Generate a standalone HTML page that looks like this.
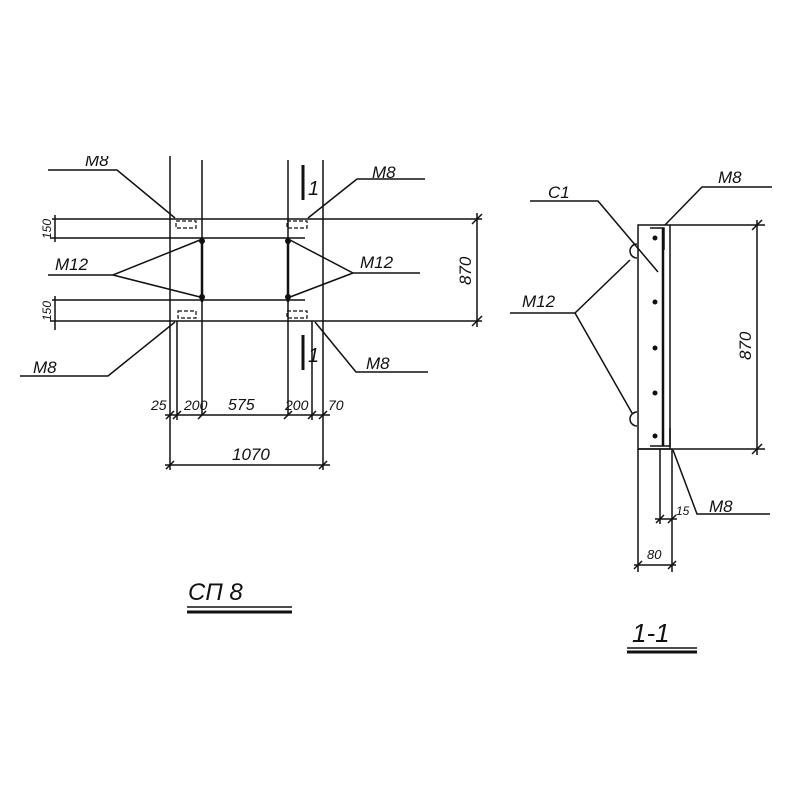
<!DOCTYPE html>
<html><head><meta charset="utf-8"><style>
body{margin:0;background:#fff}
svg{display:block}
text{font-family:"Liberation Sans","DejaVu Sans",sans-serif;font-style:italic;fill:#111}
</style></head><body>
<svg width="800" height="800" viewBox="0 0 800 800" xmlns="http://www.w3.org/2000/svg">
<g stroke="#111" stroke-width="1.5" fill="none">
<line x1="170" y1="155" x2="170" y2="470"/>
<line x1="202" y1="160" x2="202" y2="415"/>
<line x1="288" y1="160" x2="288" y2="415"/>
<line x1="323" y1="160" x2="323" y2="470"/>
<line x1="177" y1="321" x2="177" y2="420"/>
<line x1="312" y1="321" x2="312" y2="420"/>
<line x1="52" y1="219" x2="482" y2="219"/>
<line x1="50" y1="238" x2="305" y2="238"/>
<line x1="52" y1="300" x2="305" y2="300"/>
<line x1="50" y1="321" x2="482" y2="321"/>
<line x1="55" y1="215" x2="55" y2="242"/>
<line x1="55" y1="296" x2="55" y2="330"/>
<line x1="477" y1="213" x2="477" y2="327"/>
<line x1="472" y1="224" x2="482" y2="214"/>
<line x1="472" y1="326" x2="482" y2="316"/>
<rect x="176" y="221" width="20" height="7" stroke-dasharray="4 2" stroke-width="1.2"/>
<rect x="287" y="221" width="20" height="7" stroke-dasharray="4 2" stroke-width="1.2"/>
<rect x="178" y="311" width="18" height="7" stroke-dasharray="4 2" stroke-width="1.2"/>
<rect x="287" y="311" width="20" height="7" stroke-dasharray="4 2" stroke-width="1.2"/>
<line x1="202" y1="238" x2="202" y2="302" stroke-width="2.5"/>
<line x1="288" y1="238" x2="288" y2="302" stroke-width="2.5"/>
<polyline points="48,170 117,170 175,218"/>
<polyline points="357,179 425,179"/>
<line x1="357" y1="179" x2="308" y2="218"/>
<polyline points="48,275 113,275 200,240"/>
<line x1="113" y1="275" x2="200" y2="297"/>
<polyline points="420,273 353,273 290,240"/>
<line x1="353" y1="273" x2="290" y2="297"/>
<polyline points="20,376 108,376 175,322"/>
<polyline points="428,372 356,372 315,322"/>
<line x1="303" y1="165" x2="303" y2="200" stroke-width="3"/>
<line x1="303" y1="335" x2="303" y2="370" stroke-width="3"/>
<line x1="165" y1="415" x2="330" y2="415"/>
<line x1="165" y1="465" x2="330" y2="465"/>
<line x1="166" y1="419" x2="174" y2="411"/><line x1="173" y1="419" x2="181" y2="411"/>
<line x1="198" y1="419" x2="206" y2="411"/><line x1="284" y1="419" x2="292" y2="411"/>
<line x1="308" y1="419" x2="316" y2="411"/><line x1="319" y1="419" x2="327" y2="411"/>
<line x1="166" y1="469" x2="174" y2="461"/><line x1="319" y1="469" x2="327" y2="461"/>
<line x1="187" y1="607" x2="292" y2="607"/>
<line x1="187" y1="612" x2="292" y2="612" stroke-width="3"/>
<rect x="638" y="225" width="32" height="224"/>
<line x1="663" y1="228" x2="663" y2="446" stroke-width="2.5"/>
<polyline points="650,228 664,228 664,250"/>
<polyline points="650,446 670,446 670,428"/>
<path d="M637,244 a6,6 0 0 0 0,14"/>
<path d="M637,412 a6,6 0 0 0 0,14"/>
<line x1="670" y1="225" x2="765" y2="225"/>
<line x1="638" y1="449" x2="765" y2="449"/>
<line x1="757" y1="220" x2="757" y2="455"/>
<line x1="752" y1="230" x2="762" y2="220"/>
<line x1="752" y1="454" x2="762" y2="444"/>
<polyline points="530,201 598,201 658,272"/>
<polyline points="772,187 702,187 665,225"/>
<polyline points="510,313 575,313 630,260"/>
<line x1="575" y1="313" x2="632" y2="413"/>
<polyline points="770,514 697,514 673,450"/>
<line x1="638" y1="449" x2="638" y2="572"/>
<line x1="672" y1="449" x2="672" y2="572"/>
<line x1="660" y1="449" x2="660" y2="524"/>
<line x1="655" y1="519" x2="677" y2="519"/>
<line x1="634" y1="565" x2="676" y2="565"/>
<line x1="634" y1="569" x2="642" y2="561"/><line x1="668" y1="569" x2="676" y2="561"/>
<line x1="656" y1="523" x2="664" y2="515"/><line x1="668" y1="523" x2="676" y2="515"/>
<line x1="627" y1="648" x2="697" y2="648"/>
<line x1="627" y1="652" x2="697" y2="652" stroke-width="3"/>
</g>
<g fill="#111">
<circle cx="202" cy="241" r="3"/><circle cx="202" cy="297" r="3"/>
<circle cx="288" cy="241" r="3"/><circle cx="288" cy="297" r="3"/>
<circle cx="655" cy="238" r="2.5"/><circle cx="655" cy="302" r="2.5"/><circle cx="655" cy="348" r="2.5"/><circle cx="655" cy="393" r="2.5"/><circle cx="655" cy="436" r="2.5"/>
</g>
<g font-size="17">
<text x="85" y="166">М8</text>
<text x="372" y="178">М8</text>
<text x="55" y="270">М12</text>
<text x="360" y="268">М12</text>
<text x="33" y="373">М8</text>
<text x="366" y="369">М8</text>
<text x="308" y="195" font-size="20">1</text>
<text x="308" y="362" font-size="20">1</text>
<text x="151" y="410" font-size="14">25</text>
<text x="184" y="410" font-size="14">200</text>
<text x="228" y="410" font-size="16">575</text>
<text x="285" y="410" font-size="14">200</text>
<text x="328" y="410" font-size="14">70</text>
<text x="232" y="460">1070</text>
<text transform="translate(471,285) rotate(-90)">870</text>
<text font-size="12" transform="translate(51,239) rotate(-90)">150</text>
<text font-size="12" transform="translate(51,321) rotate(-90)">150</text>
<text x="188" y="600" font-size="24">СП 8</text>
<text x="548" y="198">С1</text>
<text x="718" y="183">М8</text>
<text x="522" y="307">М12</text>
<text x="709" y="512">М8</text>
<text x="676" y="515" font-size="12">15</text>
<text x="647" y="559" font-size="13">80</text>
<text transform="translate(751,360) rotate(-90)">870</text>
<text x="632" y="642" font-size="26">1-1</text>
</g>
<rect x="0" y="0" width="500" height="156" fill="#fff"/>
</svg>
</body></html>
